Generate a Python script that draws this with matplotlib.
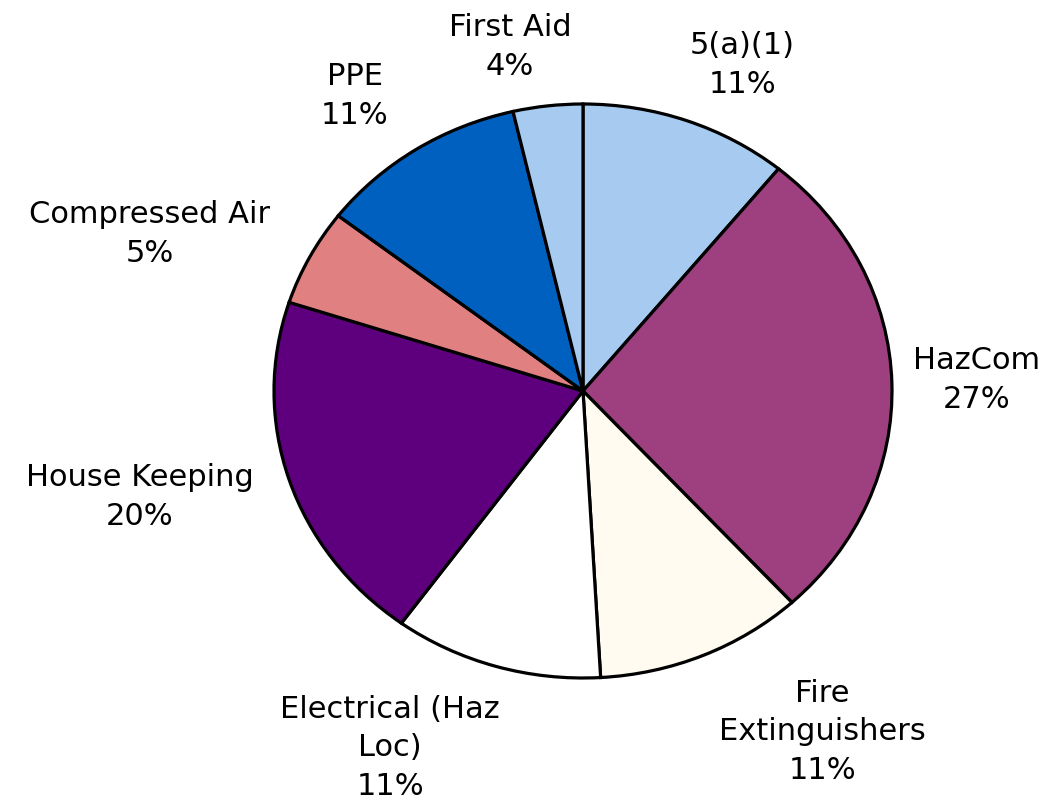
import matplotlib.pyplot as plt

# slice order: clockwise from 12 o'clock
labels = ['5(a)(1)', 'HazCom', 'Fire\nExtinguishers', 'Electrical (Haz\nLoc)',
          'House Keeping', 'Compressed Air', 'PPE', 'First Aid']
counts = [6, 15, 6, 6, 11, 3, 6, 2]
colors = ['#A6CAF0', '#9E3F80', '#FFFBF0', '#FFFFFF',
          '#5E007E', '#E08080', '#0060C0', '#A6CAF0']

# label centres in pixels (x, y from top)
label_xy = [(742, 65), (977, 380), (822, 732), (390, 748),
            (140, 497), (150, 234), (355, 96), (510, 47)]

W, H = 1054, 804
fig = plt.figure(figsize=(W / 100, H / 100), dpi=100)

# pie centre and half-axes in pixels (the original is a slightly squashed ellipse)
cx, cy, rx, ry = 583, 392, 309, 287
m = 1.1
ax = fig.add_axes([(cx - rx * m) / W, (H - cy - ry * m) / H, 2 * rx * m / W, 2 * ry * m / H])
ax.pie(counts, colors=colors, startangle=90, counterclock=False,
       wedgeprops=dict(edgecolor='black', linewidth=2.3))
ax.set_aspect('auto')
ax.set_xlim(-m, m)
ax.set_ylim(-m, m)
ax.axis('off')

total = sum(counts)
for lab, c, (x, y) in zip(labels, counts, label_xy):
    pct = round(100 * c / total)
    fig.text(x / W, 1 - y / H, f'{lab}\n{pct}%', ha='center', va='center',
             fontsize=22, family='DejaVu Sans', linespacing=1.4)

fig.savefig('out.png', dpi=100, facecolor='white')
